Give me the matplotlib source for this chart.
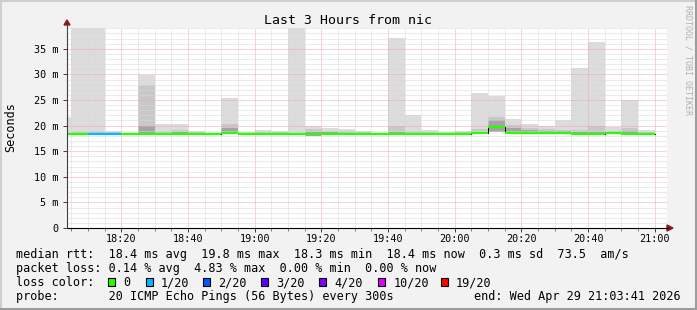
import matplotlib
matplotlib.use("Agg")
import matplotlib.pyplot as plt
from matplotlib.ticker import MultipleLocator, FuncFormatter
from matplotlib.patches import Rectangle, Polygon
from matplotlib.lines import Line2D

# 5 minute intervals (start time), smoke levels in ms
starts = ["18:00", "18:05", "18:10", "18:15", "18:20", "18:25", "18:30", "18:35", "18:40",
          "18:45", "18:50", "18:55", "19:00", "19:05", "19:10", "19:15", "19:20", "19:25",
          "19:30", "19:35", "19:40", "19:45", "19:50", "19:55", "20:00", "20:05", "20:10",
          "20:15", "20:20", "20:25", "20:30", "20:35", "20:40", "20:45", "20:50", "20:55"]
rtt_max = [21.7, 40.0, 40.0, 19.0, 18.6, 29.8, 20.25, 20.25, 19.0,
           18.5, 25.45, 18.7, 19.1, 18.95, 40.0, 19.9, 19.6, 19.35,
           18.95, 18.6, 37.2, 22.1, 19.1, 18.8, 19.0, 26.4, 25.85,
           21.3, 20.3, 19.9, 21.0, 31.2, 36.4, 19.8, 25.0, 19.1]
rtt_mid = [18.6, 18.8, 19.0, 18.8, 18.5, 27.9, 18.9, 19.1, 18.7,
           18.45, 20.25, 18.6, 18.7, 18.7, 18.6, 19.3, 19.0, 18.9,
           18.7, 18.5, 19.9, 18.95, 18.8, 18.6, 18.7, 19.3, 21.6,
           20.1, 19.5, 19.3, 19.2, 19.2, 19.9, 19.0, 19.5, 18.8]
rtt_dark = [18.45, 18.5, 18.6, 18.5, 18.45, 19.9, 18.6, 18.8, 18.5,
            18.4, 19.5, 18.5, 18.5, 18.5, 18.5, 18.8, 18.7, 18.6,
            18.5, 18.45, 18.7, 18.6, 18.5, 18.5, 18.5, 18.8, 21.1,
            19.5, 19.1, 19.0, 18.9, 18.8, 18.8, 18.7, 18.9, 18.6]
rtt_median = [18.35, 18.4, 18.4, 18.4, 18.4, 18.4, 18.4, 18.4, 18.4,
              18.3, 18.55, 18.4, 18.4, 18.4, 18.4, 18.3, 18.4, 18.4,
              18.4, 18.4, 18.4, 18.4, 18.4, 18.4, 18.4, 18.5, 19.8,
              18.6, 18.5, 18.5, 18.6, 18.4, 18.4, 18.5, 18.4, 18.4]
rtt_min = [18.3, 18.3, 18.3, 18.3, 18.3, 18.3, 18.3, 18.3, 18.3,
           18.2, 18.3, 18.3, 18.3, 18.3, 18.3, 18.0, 18.3, 18.3,
           18.3, 18.3, 18.3, 18.3, 18.3, 18.3, 18.3, 18.3, 18.8,
           18.4, 18.3, 18.3, 18.3, 18.3, 18.3, 18.3, 18.3, 18.3]
loss = [0, 0, 1, 1, 0, 0, 0, 0, 0, 0, 0, 0, 0, 0, 0, 0, 0, 0,
        0, 0, 0, 0, 0, 0, 0, 0, 0, 0, 0, 0, 0, 0, 0, 0, 0, 0]

loss_labels = ["0", "1/20", "2/20", "3/20", "4/20", "10/20", "19/20"]
loss_colors = ["#26ff00", "#00b8ff", "#0059ff", "#5e00ff", "#7e00ff", "#dd00ff", "#ff0000"]

W, H = 697, 310


def fx(x):
    return x / W


def fy(y):
    return 1 - y / H


def to_min(s):
    h, m = s.split(":")
    return int(h) * 60 + int(m)


t0 = [to_min(s) for s in starts]
step = 5

fig = plt.figure(figsize=(W / 100, H / 100), dpi=100, facecolor="#f2f2f2")
ax = fig.add_axes([fx(67), fy(228), 600 / W, 200 / H])
ax.set_facecolor("white")

# smoke
lo = rtt_min
ax.bar(t0, [h - l for h, l in zip(rtt_max, lo)], bottom=lo, width=step, align="edge",
       color="#dcdcdc", linewidth=0, zorder=1)
ax.bar(t0, [h - l for h, l in zip(rtt_mid, lo)], bottom=lo, width=step, align="edge",
       color="#c8c8c8", linewidth=0, zorder=1.1)
ax.bar(t0, [h - l for h, l in zip(rtt_dark, lo)], bottom=lo, width=step, align="edge",
       color="#a4a4a4", linewidth=0, zorder=1.2)

# median line
xs = t0 + [t0[-1] + step]
ax.step(xs, rtt_median + [rtt_median[-1]], where="post", color="black", lw=0.7, zorder=3)
for t, m, l in zip(t0, rtt_median, loss):
    ax.hlines(m, t, t + step, color=loss_colors[l], lw=1.6, zorder=3.5)

start = 18 * 60 + 3 + 41 / 60
ax.set_xlim(start, start + 180)
ax.set_ylim(0, 39.06)

ax.xaxis.set_major_locator(MultipleLocator(20))
ax.xaxis.set_minor_locator(MultipleLocator(5))
ax.yaxis.set_major_locator(MultipleLocator(5))
ax.yaxis.set_minor_locator(MultipleLocator(1))
ax.xaxis.set_major_formatter(FuncFormatter(lambda v, p: f"{int(round(v)) // 60:02d}:{int(round(v)) % 60:02d}"))
ax.yaxis.set_major_formatter(FuncFormatter(lambda v, p: "0" if v == 0 else f"{int(round(v))} m"))

ax.set_axisbelow(False)
ax.grid(which="minor", color="#d8d8d8", linestyle=(0, (1, 1)), lw=0.72)
ax.grid(which="major", color="#f2a8a8", linestyle=(0, (1, 1)), lw=0.72)

for s in ax.spines.values():
    s.set_visible(False)
ax.tick_params(which="major", length=3, width=0.7, color="#404040", labelsize=7.3, pad=1.5)
ax.tick_params(axis="x", which="minor", length=2, width=0.7, color="#808080")
ax.tick_params(axis="y", which="minor", length=0)
ax.tick_params(axis="y", which="major", pad=3)
for lbl in ax.get_xticklabels() + ax.get_yticklabels():
    lbl.set_fontfamily("DejaVu Sans Mono")

# axes with arrows
fig.add_artist(Line2D([fx(67), fx(668)], [fy(228), fy(228)], color="black", lw=0.8))
fig.add_artist(Line2D([fx(67), fx(67)], [fy(228), fy(24)], color="#404040", lw=0.8))
arrow_c = "#8b1a1a"
fig.add_artist(Polygon([(fx(667), fy(225)), (fx(667), fy(231)), (fx(673), fy(228))],
                       closed=True, color=arrow_c, transform=fig.transFigure))
fig.add_artist(Polygon([(fx(64), fy(25)), (fx(70), fy(25)), (fx(67), fy(20))],
                       closed=True, color=arrow_c, transform=fig.transFigure))

mono = "DejaVu Sans Mono"
fig.text(fx(347.5), fy(20), "Last 3 Hours from nic", ha="center", va="center",
         fontsize=9.5, family=mono)
fig.text(fx(10.5), fy(127.5), "Seconds", ha="center", va="center", rotation=90,
         fontsize=8.5, family=mono)
fig.text(fx(688), fy(60), "RRDTOOL / TOBI OETIKER", ha="center", va="center", rotation=270,
         fontsize=6, family=mono, color="#b0b0b0")

fig.text(fx(16), fy(254.5), "median rtt:  18.4 ms avg  19.8 ms max  18.3 ms min  18.4 ms now  0.3 ms sd  73.5  am/s",
         ha="left", va="center", fontsize=8.5, family=mono)
fig.text(fx(16), fy(268.5), "packet loss: 0.14 % avg  4.83 % max  0.00 % min  0.00 % now",
         ha="left", va="center", fontsize=8.5, family=mono)
fig.text(fx(16), fy(282.5), "loss color:", ha="left", va="center", fontsize=8.5, family=mono)
box_x = [108.3, 145.7, 203.3, 260.7, 319.3, 378.3, 440.7]
for bx, lab, col in zip(box_x, loss_labels, loss_colors):
    fig.add_artist(Rectangle((fx(bx), fy(286)), 7 / W, 8 / H, facecolor=col, edgecolor="black",
                             lw=0.8, transform=fig.transFigure))
    fig.text(fx(bx + 15), fy(282.5), lab, ha="left", va="center", fontsize=8.5, family=mono)
fig.text(fx(16), fy(296.5), "probe:       20 ICMP Echo Pings (56 Bytes) every 300s",
         ha="left", va="center", fontsize=8.5, family=mono)
fig.text(fx(681), fy(296.5), "end: Wed Apr 29 21:03:41 2026",
         ha="right", va="center", fontsize=8.5, family=mono)

# frame
fig.add_artist(Line2D([0, 1], [fy(0.5), fy(0.5)], color="#cfcfcf", lw=1.5))
fig.add_artist(Line2D([fx(0.5), fx(0.5)], [0, 1], color="#cfcfcf", lw=1.5))
fig.add_artist(Line2D([0, 1], [fy(308.5), fy(308.5)], color="#9c9c9c", lw=2.2))
fig.add_artist(Line2D([fx(695.5), fx(695.5)], [0, 1], color="#9c9c9c", lw=2.2))

fig.savefig("out.png", dpi=100, facecolor=fig.get_facecolor())
